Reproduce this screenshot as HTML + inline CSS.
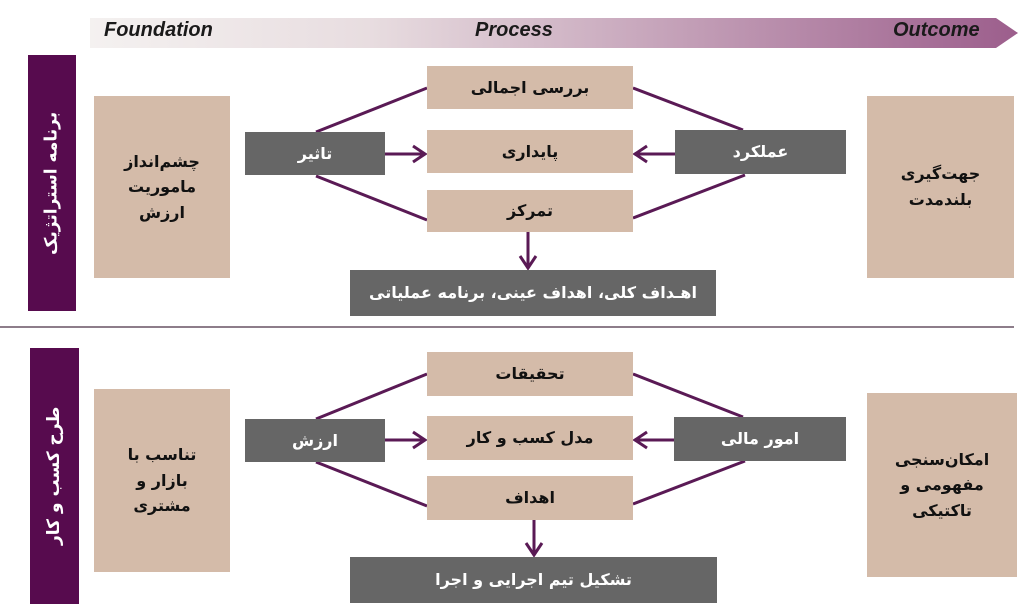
<!DOCTYPE html>
<html><head><meta charset="utf-8"><style>
body{margin:0;width:1024px;height:612px;background:#fff;position:relative;overflow:hidden;font-family:"DejaVu Sans","Liberation Sans",sans-serif}
.b{position:absolute;display:flex;align-items:center;justify-content:center;text-align:center;font-weight:bold;font-size:16px;direction:rtl;line-height:1.6}
.t{background:#d4bba9;color:#111}
.g{background:#666;color:#fff}
.p{background:#570b4e;color:#fff}
.v{writing-mode:vertical-rl;transform:rotate(180deg);font-size:17px}
.h{position:absolute;top:19px;font:italic bold 20px "Liberation Sans",sans-serif;color:#1a1a1a}
</style></head><body>
<svg width="1024" height="612" style="position:absolute;left:0;top:0">
<defs><linearGradient id="gr" x1="0" x2="1"><stop offset="0" stop-color="#f4f1f0"/><stop offset="0.3" stop-color="#e8dde0"/><stop offset="1" stop-color="#9c5e8c"/></linearGradient></defs>
<polygon points="90,18 996,18 1018,33 996,48 90,48" fill="url(#gr)"/>
<line x1="0" y1="327" x2="1014" y2="327" stroke="#8d7d8a" stroke-width="2"/>
<g stroke="#5a1a55" stroke-width="3" fill="none">
<line x1="316" y1="132" x2="427" y2="88"/><line x1="316" y1="176" x2="427" y2="220"/>
<line x1="743" y1="130" x2="633" y2="88"/><line x1="745" y1="175" x2="633" y2="218"/>
<line x1="385" y1="154" x2="424" y2="154"/><polyline points="413,146 425,154 413,162"/>
<line x1="675" y1="154" x2="636" y2="154"/><polyline points="647,146 635,154 647,162"/>
<line x1="528" y1="232" x2="528" y2="267"/><polyline points="520,256 528,268 536,256"/>
<line x1="316" y1="419" x2="427" y2="374"/><line x1="316" y1="462" x2="427" y2="506"/>
<line x1="743" y1="417" x2="633" y2="374"/><line x1="745" y1="461" x2="633" y2="504"/>
<line x1="385" y1="440" x2="424" y2="440"/><polyline points="413,432 425,440 413,448"/>
<line x1="674" y1="440" x2="636" y2="440"/><polyline points="647,432 635,440 647,448"/>
<line x1="534" y1="520" x2="534" y2="554"/><polyline points="526,543 534,555 542,543"/>
</g></svg>
<div class="h" style="left:104px">Foundation</div>
<div class="h" style="left:475px">Process</div>
<div class="h" style="left:893px">Outcome</div>

<div class="b p v" style="left:28px;top:55px;width:48px;height:256px">برنامه استراتژیک</div>
<div class="b t" style="left:94px;top:96px;width:136px;height:182px">چشم‌انداز<br>ماموریت<br>ارزش</div>
<div class="b g" style="left:245px;top:132px;width:140px;height:43px">تاثیر</div>
<div class="b t" style="left:427px;top:66px;width:206px;height:43px">بررسی اجمالی</div>
<div class="b t" style="left:427px;top:130px;width:206px;height:43px">پایداری</div>
<div class="b t" style="left:427px;top:190px;width:206px;height:42px">تمرکز</div>
<div class="b g" style="left:675px;top:130px;width:171px;height:44px">عملکرد</div>
<div class="b t" style="left:867px;top:96px;width:147px;height:182px">جهت‌گیری<br>بلندمدت</div>
<div class="b g" style="left:350px;top:270px;width:366px;height:46px">اهـداف کلی، اهداف عینی، برنامه عملیاتی</div>

<div class="b p v" style="left:30px;top:348px;width:49px;height:256px">طرح کسب و کار</div>
<div class="b t" style="left:94px;top:389px;width:136px;height:183px">تناسب با<br>بازار و<br>مشتری</div>
<div class="b g" style="left:245px;top:419px;width:140px;height:43px">ارزش</div>
<div class="b t" style="left:427px;top:352px;width:206px;height:44px">تحقیقات</div>
<div class="b t" style="left:427px;top:416px;width:206px;height:44px">مدل کسب و کار</div>
<div class="b t" style="left:427px;top:476px;width:206px;height:44px">اهداف</div>
<div class="b g" style="left:674px;top:417px;width:172px;height:44px">امور مالی</div>
<div class="b t" style="left:867px;top:393px;width:150px;height:184px">امکان‌سنجی<br>مفهومی و<br>تاکتیکی</div>
<div class="b g" style="left:350px;top:557px;width:367px;height:46px">تشکیل تیم اجرایی و اجرا</div>
</body></html>
